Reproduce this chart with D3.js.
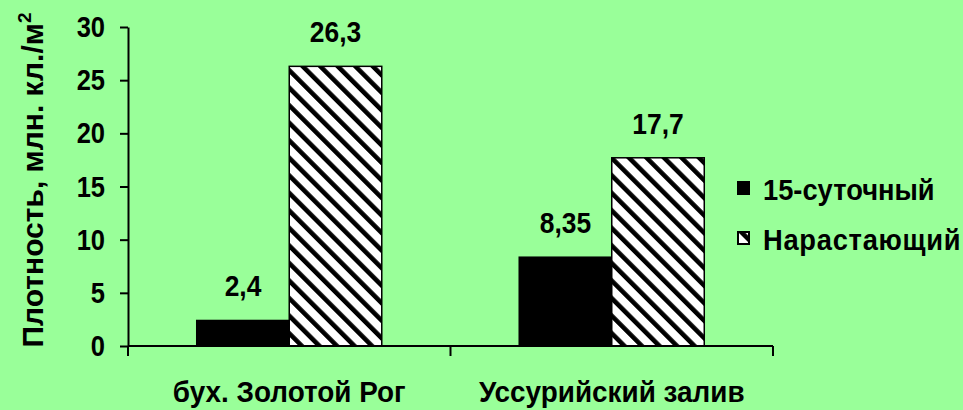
<!DOCTYPE html>
<html>
<head>
<meta charset="utf-8">
<script src="https://cdn.jsdelivr.net/npm/d3@7"></script>
<style>
  html, body { margin: 0; padding: 0; background: #99ff99; }
  svg { display: block; }
  text { font-family: "Liberation Sans", Arial, sans-serif; font-weight: bold; fill: #000; }
</style>
</head>
<body>
<svg id="chart" width="963" height="410"></svg>
<script>
const categories = ["бух. Золотой Рог", "Уссурийский залив"]
const seriesNames = ["15-суточный", "Нарастающий"]
const dailyValues = [2.4, 8.35]
const cumulativeValues = [26.3, 17.7]
const yTicks = [0, 5, 10, 15, 20, 25, 30]

const svg = d3.select("#chart")
const plotLeft = 128, plotRight = 773, plotTop = 27, plotBottom = 346

// the original lettering is a bit condensed, so glyphs get squeezed horizontally
function place(px, py, sx) {
    return "translate(" + px + "," + py + ") scale(" + sx + ",1)"
}

// hatched fill, stripes going down to the right
const defs = svg.append("defs")
const hatch = defs.append("pattern")
    .attr("id", "hatch")
    .attr("patternUnits", "userSpaceOnUse")
    .attr("width", 12.4)
    .attr("height", 12.4)
    .attr("patternTransform", "rotate(-45)")
hatch.append("rect").attr("width", 12.4).attr("height", 12.4).attr("fill", "#fff")
hatch.append("rect").attr("width", 4.6).attr("height", 12.4).attr("fill", "#000")

const x = d3.scaleBand().domain(categories).range([plotLeft, plotRight]).padding(0)
const xs = d3.scaleBand().domain(seriesNames).range([0, x.bandwidth()]).paddingInner(0).paddingOuter(0.743)
const y = d3.scaleLinear().domain([0, 30]).range([plotBottom, plotTop])
const fills = ["#000", "url(#hatch)"]

const rows = categories.map(function (c, i) {
    return { cat: c, values: [dailyValues[i], cumulativeValues[i]] }
})

const groups = svg.selectAll(".grp")
    .data(rows)
    .enter()
    .append("g")
    .attr("class", "grp")
    .attr("transform", function (d) { return "translate(" + x(d.cat) + ",0)" })

groups.selectAll("rect")
    .data(function (d) { return d.values.map(function (v, j) { return { s: seriesNames[j], v: v, j: j } }) })
    .enter()
    .append("rect")
    .attr("x", function (d) { return xs(d.s) })
    .attr("y", function (d) { return y(d.v) })
    .attr("width", xs.bandwidth())
    .attr("height", function (d) { return y(0) - y(d.v) })
    .attr("fill", function (d) { return fills[d.j] })
    .attr("stroke", "#000")
    .attr("stroke-width", 1.5)

groups.selectAll(".val")
    .data(function (d) { return d.values.map(function (v, j) { return { s: seriesNames[j], v: v } }) })
    .enter()
    .append("text")
    .attr("class", "val")
    .attr("transform", function (d) { return place(xs(d.s) + xs.bandwidth() / 2, y(d.v) - 24, 0.88) })
    .attr("text-anchor", "middle")
    .style("font-size", "30px")
    .text(function (d) { return String(d.v).replace(".", ",") })

// y axis
const yAxis = d3.axisLeft(y).tickValues(yTicks).tickSize(8).tickSizeOuter(0).tickPadding(15)
const yG = svg.append("g").attr("transform", "translate(" + plotLeft + ",0)").call(yAxis)
yG.select(".domain").attr("stroke", "#000").attr("stroke-width", 2)
yG.selectAll(".tick line").attr("stroke", "#000").attr("stroke-width", 2)
yG.selectAll(".tick text")
    .style("font-size", "30px")
    .style("font-family", "Liberation Sans, Arial, sans-serif")
    .attr("font-weight", "bold")
    .attr("x", -23 / 0.85)
    .attr("transform", "scale(0.85,1)")

// x axis, ticks at category boundaries
svg.append("line")
    .attr("x1", plotLeft).attr("x2", plotRight)
    .attr("y1", plotBottom).attr("y2", plotBottom)
    .attr("stroke", "#000").attr("stroke-width", 2)
const bounds = categories.map(function (c) { return x(c) }).concat([plotRight])
svg.selectAll(".xtick")
    .data(bounds)
    .enter()
    .append("line")
    .attr("class", "xtick")
    .attr("x1", function (d) { return d }).attr("x2", function (d) { return d })
    .attr("y1", plotBottom).attr("y2", plotBottom + 10)
    .attr("stroke", "#000").attr("stroke-width", 2)

svg.selectAll(".xlab")
    .data(categories)
    .enter()
    .append("text")
    .attr("class", "xlab")
    .attr("transform", function (d) { return place(x(d) + x.bandwidth() / 2, 402, 0.93) })
    .attr("text-anchor", "middle")
    .style("font-size", "30px")
    .text(function (d) { return d })

// axis title
const title = svg.append("text")
    .attr("transform", "translate(43," + 180 + ") rotate(-90)")
    .attr("text-anchor", "middle")
    .style("font-size", "30px")
title.append("tspan").text("Плотность, млн. кл./м")
title.append("tspan").attr("dy", -12).style("font-size", "19px").text("2")

// legend
const legend = svg.selectAll(".leg")
    .data(seriesNames)
    .enter()
    .append("g")
    .attr("class", "leg")
    .attr("transform", function (d, i) { return "translate(738," + (182 + i * 50) + ")" })
legend.append("rect")
    .attr("width", 11).attr("height", 12)
    .attr("fill", function (d, i) { return fills[i] })
    .attr("stroke", "#000").attr("stroke-width", 2)
legend.append("text")
    .attr("transform", place(25, 18, 0.91))
    .style("font-size", "30px")
    .attr("letter-spacing", function (d, i) { return i === 1 ? 0.8 : 0 })
    .text(function (d) { return d })
</script>
</body>
</html>
